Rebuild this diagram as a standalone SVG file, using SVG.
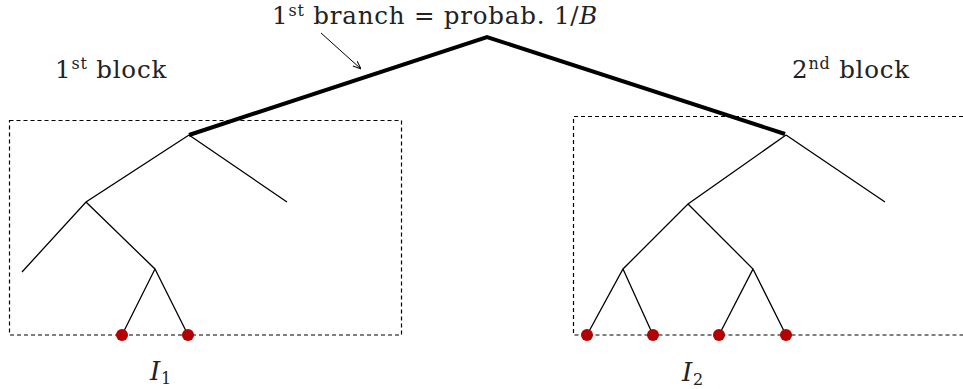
<svg xmlns="http://www.w3.org/2000/svg" width="963" height="389" viewBox="0 0 963 389">
<style>
.box{fill:none;stroke:#000;stroke-width:1.2;stroke-dasharray:4,3}
.e{stroke:#000;stroke-width:1.3;fill:none}
.thick{stroke:#000;stroke-width:4;fill:none;stroke-linejoin:miter}
.leaf{fill:#b30000}
text{font-family:"DejaVu Serif","Liberation Serif",serif;font-size:24.5px;fill:#222;letter-spacing:0.8px}
.it{font-style:italic}
.sup{font-size:16px}
.sub{font-size:16px}
</style>
<defs>
<marker id="ah" viewBox="0 0 10 10" refX="10" refY="5" markerWidth="8" markerHeight="8" orient="auto" markerUnits="userSpaceOnUse">
<path d="M0,1 L10,5 L0,9" fill="none" stroke="#000" stroke-width="1.2"/>
</marker>
</defs>
<g id="block1">
<rect class="box" x="9.5" y="120.5" width="392" height="214.5"/>
</g>
<g id="block2">
<path class="box" d="M963,116.5 H573.5 V335 H963"/>
</g>
<g id="connectors">
<path class="thick" d="M189,135 L487,37 L785,134"/>
<path class="e" d="M189,135 L287,202 M189,135 L86,202 L22,272 M86,202 L155,269 L122,335 M155,269 L188,335"/>
<path class="e" d="M786,135 L885,202 M786,135 L688,204 L623,269 L587,335 M623,269 L653,335 M688,204 L753,269 L719,335 M753,269 L786,335"/>
<line x1="321" y1="33" x2="361" y2="69" stroke="#000" stroke-width="1" marker-end="url(#ah)"/>
</g>
<g id="leaves">
<circle class="leaf" cx="122" cy="335" r="6"/>
<circle class="leaf" cx="188" cy="335" r="6"/>
<circle class="leaf" cx="587" cy="335" r="6"/>
<circle class="leaf" cx="653" cy="335" r="6"/>
<circle class="leaf" cx="719" cy="335" r="6"/>
<circle class="leaf" cx="786" cy="335" r="6"/>
</g>
<g id="labels">
<text x="272" y="24">1<tspan class="sup" dy="-8">st</tspan><tspan dy="8"> branch = probab. 1/</tspan><tspan class="it">B</tspan></text>
<text x="55" y="78">1<tspan class="sup" dy="-9">st</tspan><tspan dy="9"> block</tspan></text>
<text x="792" y="78">2<tspan class="sup" dy="-9">nd</tspan><tspan dy="9"> block</tspan></text>
<text x="150" y="380" style="font-size:26px"><tspan class="it">I</tspan><tspan class="sub" dy="4">1</tspan></text>
<text x="682" y="381" style="font-size:26px"><tspan class="it">I</tspan><tspan class="sub" dy="4">2</tspan></text>
</g>
</svg>
